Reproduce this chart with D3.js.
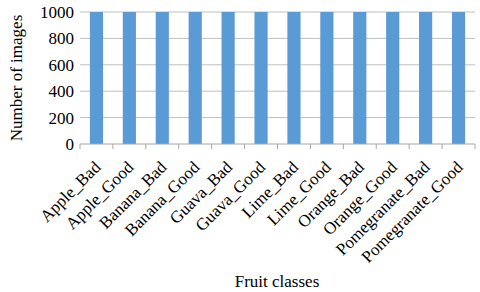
<!DOCTYPE html>
<html>
<head>
<meta charset="utf-8">
<script src="https://cdn.jsdelivr.net/npm/d3@7"></script>
<style>
  body { margin: 0; background: #fff; }
</style>
</head>
<body>
<svg class="chart"></svg>
<script>
var classes = ['Apple_Bad', 'Apple_Good', 'Banana_Bad', 'Banana_Good', 'Guava_Bad', 'Guava_Good',
  'Lime_Bad', 'Lime_Good', 'Orange_Bad', 'Orange_Good', 'Pomegranate_Bad', 'Pomegranate_Good'];
var counts = [1000, 1000, 1000, 1000, 1000, 1000, 1000, 1000, 1000, 1000, 1000, 1000];
var yTicks = [0, 200, 400, 600, 800, 1000];

const width = 480, height = 292;
const margin = {left: 80, right: 5, top: 12, bottom: 148};
const font = 'Liberation Serif';
const svg = d3.select('svg.chart').attr('width', width).attr('height', height)
  .attr('font-family', font);

const x = d3.scaleBand().domain(classes).range([margin.left, width - margin.right]).paddingInner(0.6).paddingOuter(0.3);
const xb = d3.scaleBand().domain(classes).range([margin.left, width - margin.right]);
const y = d3.scaleLinear().domain([0, 1000]).range([height - margin.bottom, margin.top]);

// gridlines
svg.append('g').selectAll('line')
  .data(yTicks.slice(1))
  .enter().append('line')
  .attr('x1', margin.left).attr('x2', width - margin.right)
  .attr('y1', d => y(d)).attr('y2', d => y(d))
  .attr('stroke', '#bfbfbf').attr('stroke-width', 1);

// bars
svg.append('g').selectAll('rect')
  .data(counts)
  .enter().append('rect')
  .attr('x', (d, i) => x(classes[i]))
  .attr('width', x.bandwidth())
  .attr('y', d => y(d))
  .attr('height', d => y(0) - y(d))
  .attr('fill', '#5b9bd5');

// x axis line and ticks at category boundaries
const y0 = y(0);
svg.append('line')
  .attr('x1', margin.left).attr('x2', width - margin.right)
  .attr('y1', y0).attr('y2', y0)
  .attr('stroke', '#a6a6a6');
svg.append('g').selectAll('line')
  .data(classes.map(c => xb(c)).concat([width - margin.right]))
  .enter().append('line')
  .attr('x1', d => d).attr('x2', d => d)
  .attr('y1', y0).attr('y2', y0 + 5)
  .attr('stroke', '#a6a6a6');

// y tick labels
svg.append('g').selectAll('text')
  .data(yTicks)
  .enter().append('text')
  .attr('x', margin.left - 6)
  .attr('y', d => y(d))
  .attr('dy', '0.35em')
  .attr('text-anchor', 'end')
  .style('font-family', font)
  .style('font-size', '17px')
  .text(d => d);

// x tick labels
svg.append('g').selectAll('text')
  .data(classes)
  .enter().append('text')
  .attr('transform', d => 'translate(' + (xb(d) + xb.bandwidth() / 2 + 1) + ',' + (y0 + 20) + ') rotate(-45)')
  .attr('text-anchor', 'end')
  .attr('dy', '0.35em')
  .style('font-family', font)
  .style('font-size', '17px')
  .text(d => d);

// axis titles
svg.append('text')
  .attr('transform', 'translate(22,' + (y(500)) + ') rotate(-90)')
  .attr('text-anchor', 'middle')
  .style('font-family', font)
  .style('font-size', '17px')
  .text('Number of images');

svg.append('text')
  .attr('x', 277).attr('y', 287)
  .attr('text-anchor', 'middle')
  .style('font-family', font)
  .style('font-size', '17px')
  .text('Fruit classes');
</script>
</body>
</html>
